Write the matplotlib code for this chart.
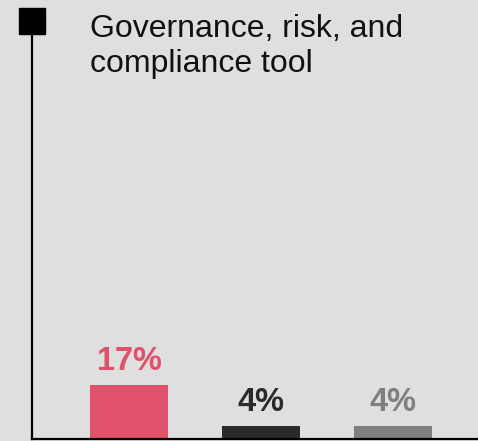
import matplotlib.pyplot as plt

categories = ['A', 'B', 'C']
values = [17, 4, 4]
labels = ['17%', '4%', '4%']
colors = ['#e0526b', '#2a2a2a', '#7f7f7f']
title_lines = ['Governance, risk, and', 'compliance tool']

W, H = 478, 441
fig = plt.figure(figsize=(W / 100, H / 100), dpi=100)
fig.patch.set_facecolor('#dfdfdf')

# axes from the vertical line (x=32) to the right edge, baseline at y=439
ax = fig.add_axes([32 / W, 2 / H, (W - 32) / W, (439 - 21) / H])
ax.set_facecolor('#dfdfdf')

x = range(len(categories))
ax.bar(x, values, width=0.593, color=colors)
for i, (v, lab, c) in enumerate(zip(values, labels, colors)):
    ax.text(i, v + 4.8, lab, ha='center', va='baseline', color=c,
            fontsize=23.5, fontweight='bold', family='Liberation Sans')

ax.set_xlim(-0.741, 2.65)
ax.set_ylim(0, 132.7)
ax.set_xticks([])
ax.set_yticks([])
for s in ['top', 'right']:
    ax.spines[s].set_visible(False)
ax.spines['left'].set_linewidth(1.6)
ax.spines['bottom'].set_linewidth(1.6)

# square marker on top of the line
ax.plot([0], [1], marker='s', markersize=19.4, color='black',
        transform=ax.transAxes, clip_on=False)

for k, line in enumerate(title_lines):
    fig.text(90 / W, 1 - (37 + 35 * k) / H, line, ha='left', va='baseline',
             fontsize=23, family='Liberation Sans', color='#111111')

fig.savefig('out.png', dpi=100, facecolor=fig.get_facecolor())
